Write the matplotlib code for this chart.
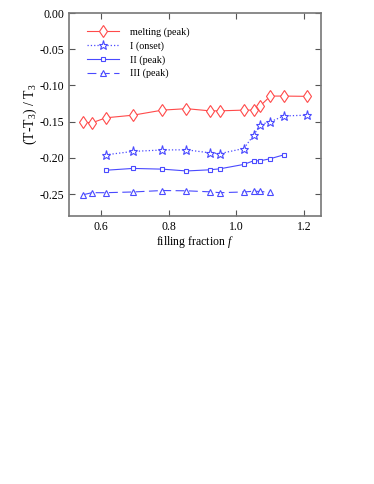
import numpy as np
import matplotlib
matplotlib.use("Agg")
import matplotlib.pyplot as plt

plt.rcParams['font.family'] = ['Liberation Serif', 'DejaVu Serif']
plt.rcParams['mathtext.fontset'] = 'custom'
plt.rcParams['mathtext.rm'] = 'Liberation Serif'
plt.rcParams['mathtext.it'] = 'Liberation Serif:italic'

red = '#ff4a4a'
blue = '#4a4aff'

f_melt = [0.546, 0.574, 0.615, 0.695, 0.782, 0.853, 0.922, 0.952, 1.022, 1.051, 1.071, 1.101, 1.141, 1.209]
t_melt = [-0.1506, -0.1515, -0.1446, -0.141, -0.134, -0.132, -0.135, -0.135, -0.134, -0.134, -0.128, -0.1146, -0.1146, -0.115]

f_one = [0.615, 0.695, 0.782, 0.853, 0.922, 0.952, 1.022, 1.051, 1.071, 1.101, 1.141, 1.209]
t_one = [-0.1957, -0.191, -0.189, -0.1888, -0.193, -0.194, -0.187, -0.169, -0.154, -0.150, -0.142, -0.141]

f_two = [0.615, 0.695, 0.782, 0.853, 0.922, 0.952, 1.022, 1.051, 1.071, 1.101, 1.141]
t_two = [-0.217, -0.2145, -0.2155, -0.218, -0.2164, -0.215, -0.209, -0.204, -0.204, -0.201, -0.1957]

f_three = [0.546, 0.574, 0.615, 0.695, 0.782, 0.853, 0.922, 0.952, 1.022, 1.051, 1.071, 1.101]
t_three = [-0.251, -0.248, -0.248, -0.247, -0.245, -0.2454, -0.2468, -0.248, -0.247, -0.246, -0.2463, -0.2477]

fig = plt.figure(figsize=(3.74, 4.84), dpi=100)
ax = fig.add_axes([0.1845, 0.554, 0.6735, 0.419])

ax.plot(f_melt, t_melt, '-', color=red, lw=0.8, marker='d', ms=6.2, mfc='white', mec=red, mew=0.8, label='melting (peak)')
ax.plot(f_one, t_one, ':', color=blue, lw=0.9, marker='*', ms=6.5, mfc='white', mec=blue, mew=0.8, label='I (onset)')
ax.plot(f_two, t_two, '-', color=blue, lw=0.8, marker='s', ms=3.3, mfc='white', mec=blue, mew=0.8, label='II (peak)')
ax.plot(f_three, t_three, '--', color=blue, lw=0.8, dashes=(8, 4), marker='^', ms=4.3, mfc='white', mec=blue, mew=0.8, label='III (peak)')

ax.set_xlim(0.506, 1.25)
ax.set_ylim(-0.28, 0.0)
ax.set_xticks([0.6, 0.8, 1.0, 1.2])
ax.set_yticks([0.0, -0.05, -0.10, -0.15, -0.20, -0.25])
ax.set_xticklabels(['0.6', '0.8', '1.0', '1.2'])
ax.set_yticklabels(['0.00', '-0.05', '-0.10', '-0.15', '-0.20', '-0.25'])
ax.tick_params(direction='in', top=True, right=True, length=4, width=0.8, labelsize=8.5, color='#555555')
for s in ax.spines.values():
    s.set_color('#777777')
    s.set_linewidth(1.2)

ax.set_xlabel('filling fraction $f$', fontsize=8.5, labelpad=1)
ax.set_ylabel('(T-T$_3$) / T$_3$', fontsize=10, labelpad=0)

ax.legend(loc='upper left', bbox_to_anchor=(0.035, 0.975), frameon=False, fontsize=7.3,
          handlelength=3.2, handletextpad=1.0, labelspacing=0.42)

fig.savefig('out.png', dpi=100)
